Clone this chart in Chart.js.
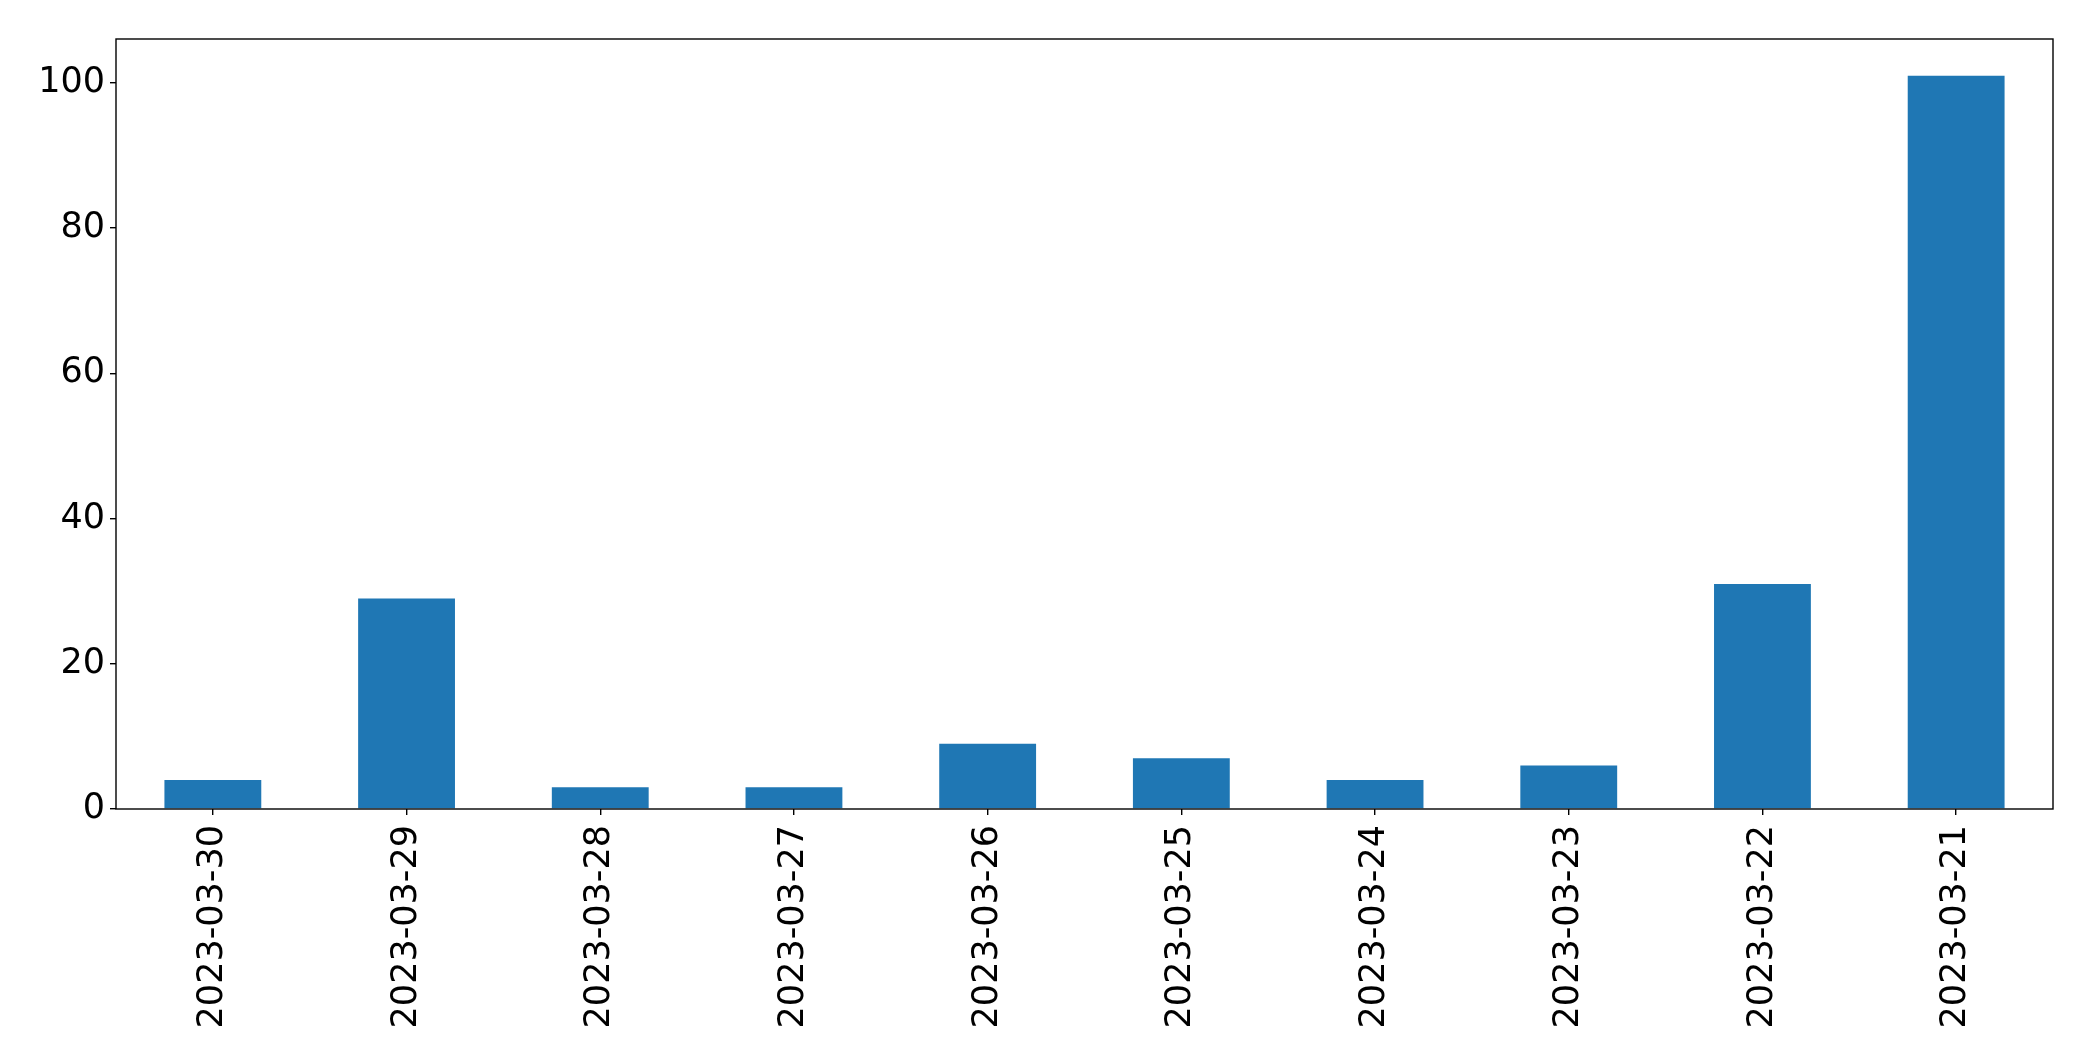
<!DOCTYPE html>
<html>
<head>
<meta charset="utf-8">
<script src="https://cdn.jsdelivr.net/npm/chart.js@4"></script>
<style>
  html, body { margin: 0; padding: 0; background: #fff; }
  #wrap { width: 2093px; height: 1061px; }
</style>
</head>
<body>
<div id="wrap"><canvas id="chart" width="2093" height="1061"></canvas></div>
<script>
const dates = ['2023-03-30', '2023-03-29', '2023-03-28', '2023-03-27', '2023-03-26',
               '2023-03-25', '2023-03-24', '2023-03-23', '2023-03-22', '2023-03-21'];
const counts = [4, 29, 3, 3, 9, 7, 4, 6, 31, 101];
const yTicks = [0, 20, 40, 60, 80, 100];

const frame = {
    id: 'frame',
    afterDraw(chart) {
        const { ctx, chartArea: a } = chart;
        ctx.save();
        ctx.strokeStyle = '#000';
        ctx.lineWidth = 1.4;
        ctx.strokeRect(a.left, a.top, a.right - a.left, a.bottom - a.top);
        ctx.restore();
    }
};

const font = { family: 'DejaVu Sans', size: 35 };

new Chart(document.getElementById('chart'), {
    type: 'bar',
    data: {
        labels: dates,
        datasets: [{
            data: counts,
            backgroundColor: '#1f77b4',
            barPercentage: 0.5,
            categoryPercentage: 1.0
        }]
    },
    options: {
        responsive: false,
        animation: false,
        layout: { padding: { left: 0, top: 39, right: 40, bottom: 0 } },
        plugins: { legend: { display: false }, tooltip: { enabled: false } },
        scales: {
            x: {
                grid: { display: true, offset: false, drawOnChartArea: false, drawTicks: true, tickLength: 6, color: '#000', lineWidth: 1.4 },
                border: { display: false },
                ticks: { color: '#000', font: font, minRotation: 90, maxRotation: 90, padding: 10, autoSkip: false },
                afterFit(scale) { scale.height = 1061 - 809; }
            },
            y: {
                min: 0,
                max: 106.05,
                grid: { display: true, drawOnChartArea: false, drawTicks: true, tickLength: 6, color: '#000', lineWidth: 1.4 },
                border: { display: false },
                ticks: { color: '#000', font: font, padding: 5 },
                afterBuildTicks(scale) { scale.ticks = yTicks.map(v => ({ value: v })); },
                afterFit(scale) { scale.width = 116; }
            }
        }
    },
    plugins: [frame]
});
</script>
</body>
</html>
